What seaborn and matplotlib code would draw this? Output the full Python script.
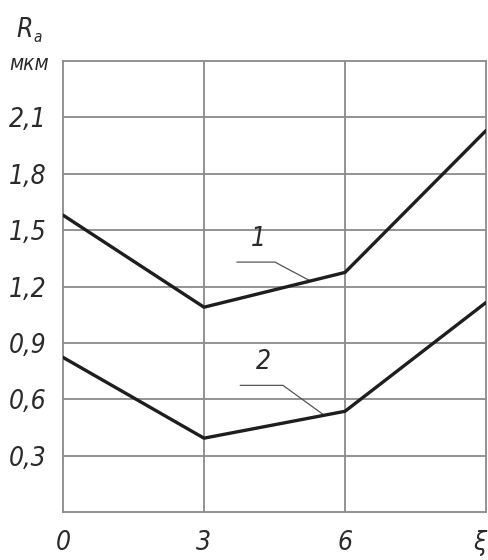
import matplotlib
matplotlib.use("Agg")
import matplotlib.pyplot as plt
import seaborn as sns
import pandas as pd

# Roughness Ra (µm) versus parameter ξ for two regimes
xi = [0, 3, 6, 9]
ra_curve1 = [1.58, 1.09, 1.275, 2.03]
ra_curve2 = [0.823, 0.393, 0.536, 1.115]
x_tick_labels = ["0", "3", "6", "ξ"]
y_ticks = [0.3, 0.6, 0.9, 1.2, 1.5, 1.8, 2.1]
y_tick_labels = ["0,3", "0,6", "0,9", "1,2", "1,5", "1,8", "2,1"]
curve_names = ["1", "2"]

df = pd.DataFrame({
    "xi": xi * 2,
    "ra": ra_curve1 + ra_curve2,
    "curve": [curve_names[0]] * 4 + [curve_names[1]] * 4,
})

sns.set_theme(style="white")
plt.rcParams["font.family"] = ["DejaVu Sans"]
plt.rcParams["font.stretch"] = "condensed"

fig = plt.figure(figsize=(4.89, 5.6), dpi=100)
ax = fig.add_axes([0.1288, 0.0857, 0.8651, 0.8053])

grid_c = "#8a8a8a"
for yt in y_ticks:
    ax.axhline(yt, color=grid_c, lw=1.3, zorder=1)
for xt in xi[1:-1]:
    ax.axvline(xt, color=grid_c, lw=1.3, zorder=1)

sns.lineplot(data=df, x="xi", y="ra", units="curve", estimator=None,
             color="#1e1e1e", lw=2.4, ax=ax, zorder=3, legend=False)

ax.set_xlim(0, 9)
ax.set_ylim(0, 2.4)
for s in ax.spines.values():
    s.set_color(grid_c)
    s.set_linewidth(1.3)
    s.set_visible(True)

txt_c = "#2a2a2a"
tick_font = dict(fontsize=19, style="italic", color=txt_c, stretch="condensed")
ax.set_xticks(xi)
ax.set_xticklabels(x_tick_labels, **tick_font)
ax.get_xticklabels()[-1].set_horizontalalignment("right")
ax.set_yticks(y_ticks)
ax.set_yticklabels(y_tick_labels, **tick_font)
ax.tick_params(axis="both", length=0)
ax.tick_params(axis="x", pad=13)
ax.tick_params(axis="y", pad=12)
ax.set_xlabel("")
ax.set_ylabel("")

# Curve labels with leader lines
ax.text(4.15, 1.455, curve_names[0], ha="center", va="center", **tick_font)
ax.plot([3.70, 4.51, 5.26], [1.33, 1.33, 1.23], color="#555555", lw=0.9, zorder=2)
ax.text(4.26, 0.80, curve_names[1], ha="center", va="center", **tick_font)
ax.plot([3.77, 4.68, 5.53], [0.674, 0.674, 0.52], color="#555555", lw=0.9, zorder=2)

# Axis unit caption
fig.text(25 / 489, 1 - 30 / 560, "R", ha="center", va="center",
         fontsize=19, style="italic", color=txt_c, stretch="condensed")
fig.text(38 / 489, 1 - 37 / 560, "a", ha="center", va="center",
         fontsize=11, style="italic", color=txt_c, stretch="condensed")
fig.text(29 / 489, 1 - 64 / 560, "мкм", ha="center", va="center",
         fontsize=15, style="italic", color=txt_c, stretch="condensed")

fig.savefig("out.png", dpi=100)
